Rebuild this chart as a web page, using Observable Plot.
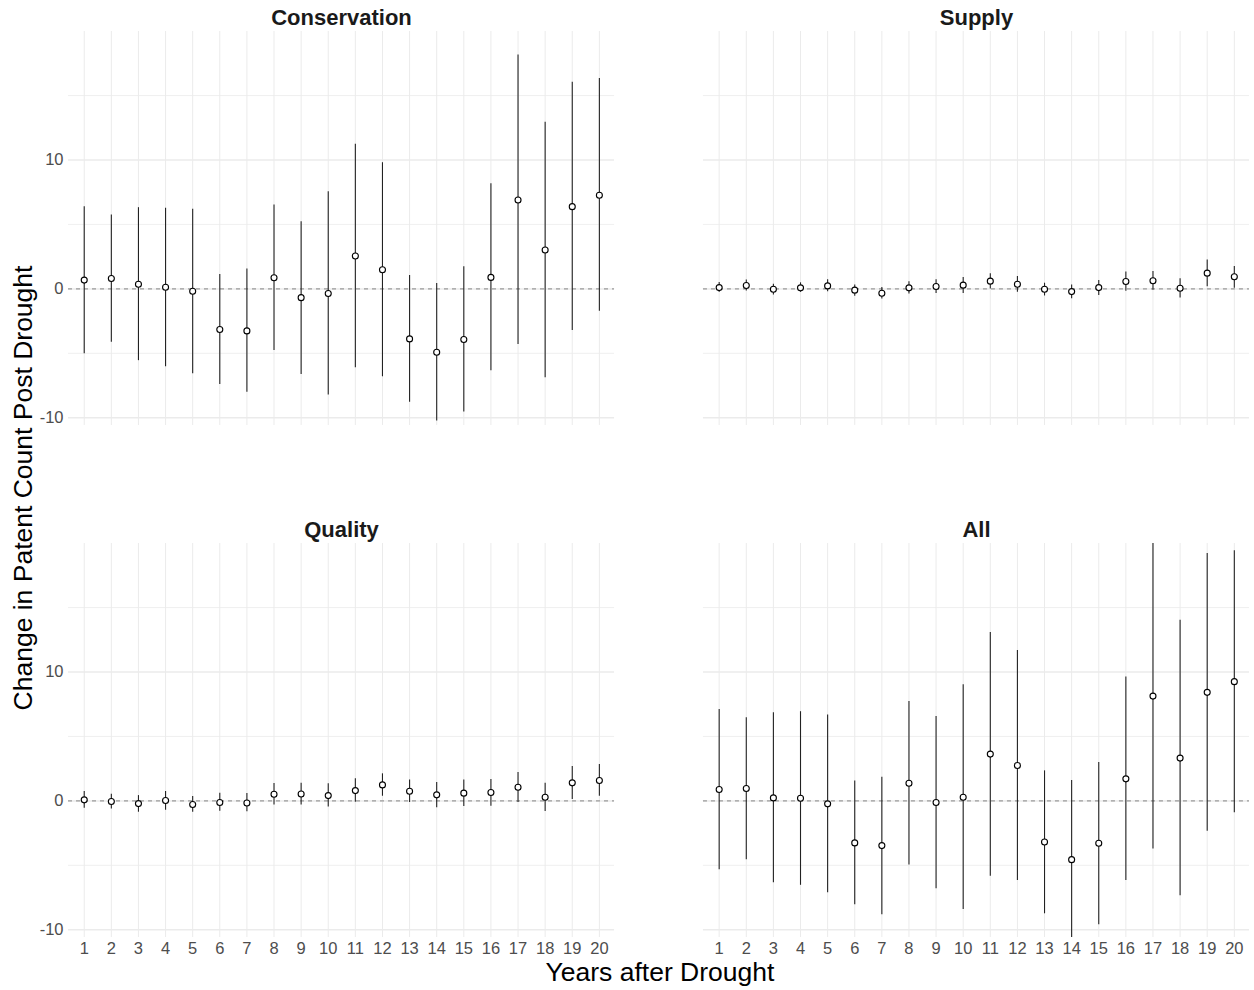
<!DOCTYPE html>
<html>
<head>
<meta charset="utf-8">
<script src="https://cdn.jsdelivr.net/npm/d3@7"></script>
<script src="https://cdn.jsdelivr.net/npm/@observablehq/plot@0.6"></script>
<style>
  html, body { margin: 0; padding: 0; background: #ffffff; }
</style>
</head>
<body>
<div id="chart"></div>
<script>
const years = [1,2,3,4,5,6,7,8,9,10,11,12,13,14,15,16,17,18,19,20];

const panelNames = ["Conservation", "Supply", "Quality", "All"];

const consEst = [0.68,0.81,0.36,0.13,-0.18,-3.15,-3.26,0.86,-0.68,-0.36,2.55,1.48,-3.88,-4.92,-3.93,0.89,6.90,3.02,6.38,7.27];
const consLo  = [-5.03,-4.14,-5.57,-6.04,-6.59,-7.42,-8.02,-4.79,-6.64,-8.23,-6.12,-6.82,-8.80,-10.26,-9.56,-6.35,-4.32,-6.90,-3.23,-1.74];
const consHi  = [6.38,5.73,6.30,6.25,6.17,1.12,1.54,6.51,5.21,7.53,11.22,9.79,1.04,0.42,1.72,8.15,18.15,12.92,16.04,16.33];

const supEst = [0.10,0.26,-0.03,0.08,0.23,-0.10,-0.34,0.08,0.18,0.29,0.60,0.36,-0.03,-0.21,0.10,0.57,0.63,0.05,1.22,0.94];
const supLo  = [-0.26,-0.16,-0.47,-0.26,-0.23,-0.57,-0.78,-0.39,-0.36,-0.36,0.00,-0.26,-0.55,-0.76,-0.52,-0.18,-0.10,-0.70,0.16,0.05];
const supHi  = [0.50,0.68,0.36,0.47,0.70,0.31,0.10,0.55,0.70,0.89,1.17,0.96,0.44,0.31,0.65,1.30,1.35,0.78,2.24,1.74];

const qualEst = [0.08,-0.05,-0.21,0.03,-0.28,-0.13,-0.16,0.52,0.54,0.41,0.80,1.24,0.75,0.47,0.60,0.65,1.06,0.28,1.40,1.58];
const qualLo  = [-0.57,-0.62,-0.88,-0.73,-0.88,-0.80,-0.85,-0.31,-0.31,-0.47,-0.10,0.36,-0.13,-0.54,-0.44,-0.41,-0.13,-0.83,0.10,0.36];
const qualHi  = [0.73,0.52,0.41,0.73,0.34,0.60,0.57,1.35,1.37,1.32,1.71,2.10,1.63,1.42,1.63,1.66,2.20,1.37,2.67,2.82];

const allEst = [0.88,0.96,0.23,0.21,-0.23,-3.26,-3.47,1.37,-0.13,0.28,3.63,2.75,-3.19,-4.56,-3.29,1.71,8.13,3.32,8.42,9.25];
const allLo  = [-5.34,-4.56,-6.35,-6.55,-7.12,-8.06,-8.83,-4.97,-6.81,-8.42,-5.85,-6.17,-8.76,-11.2,-9.61,-6.17,-3.73,-7.36,-2.36,-0.93];
const allHi  = [7.10,6.45,6.84,6.92,6.66,1.55,1.84,7.72,6.55,9.02,13.06,11.66,2.33,1.58,2.98,9.61,20.8,14.02,19.2,19.4];

const yTicks = [-10, 0, 10];
const yMinor = [-5, 5, 15];
const yLabel = "Change in Patent Count Post Drought";
const xLabel = "Years after Drought";

// build table
const series = [
  {name: panelNames[0], est: consEst, lo: consLo, hi: consHi},
  {name: panelNames[1], est: supEst, lo: supLo, hi: supHi},
  {name: panelNames[2], est: qualEst, lo: qualLo, hi: qualHi},
  {name: panelNames[3], est: allEst, lo: allLo, hi: allHi}
];
const rows = [];
const panels = [];
series.forEach((s, i) => {
  const col = i % 2, row = Math.floor(i / 2);
  panels.push({name: s.name, col, row});
  years.forEach((yr, j) => {
    rows.push({panel: s.name, col, row, year: yr, est: s.est[j], lo: s.lo[j], hi: s.hi[j]});
  });
});

const gridColor = "#ebebeb";

const svg = Plot.plot({
  width: 1254,
  height: 990,
  marginLeft: 68,
  marginRight: 5,
  marginTop: 31,
  marginBottom: 53,
  style: {fontFamily: "'Liberation Sans', Arial, sans-serif", fontSize: "16.5px", color: "#4d4d4d", background: "#ffffff"},
  fx: {axis: null, domain: [0, 1], paddingInner: 0.14, paddingOuter: 0, round: false},
  fy: {axis: null, domain: [0, 1], paddingInner: 0.2305, paddingOuter: 0, round: false},
  x: {domain: [0.42, 20.56], ticks: years, tickSize: 0, tickPadding: 5, label: null, tickFormat: d => String(d)},
  y: {domain: [-10.6, 19.97], ticks: yTicks, tickSize: 0, tickPadding: 5, label: null, tickFormat: d => String(d)},
  marks: [
    Plot.ruleY(yMinor, {stroke: gridColor, strokeWidth: 0.8}),
    Plot.ruleY(yTicks, {stroke: gridColor, strokeWidth: 1.5}),
    Plot.ruleX(years, {stroke: gridColor, strokeWidth: 1}),
    Plot.ruleY([0], {stroke: "#9a9a9a", strokeWidth: 1.1, strokeDasharray: "4,4"}),
    Plot.ruleX(rows, {fx: "col", fy: "row", x: "year", y1: "lo", y2: "hi", stroke: "#222222", strokeWidth: 1.1, clip: true}),
    Plot.dot(rows, {fx: "col", fy: "row", x: "year", y: "est", r: 3, fill: "white", stroke: "#000000", strokeWidth: 1.1}),
    Plot.text(panels, {fx: "col", fy: "row", text: "name", frameAnchor: "top", dy: -22, fontWeight: "bold", fontSize: 22, fill: "#1a1a1a"})
  ]
});

const sel = d3.select(svg);
sel.append("text")
  .attr("transform", "translate(32,488) rotate(-90)")
  .attr("text-anchor", "middle")
  .attr("fill", "#000000")
  .attr("font-size", "26.5px")
  .text(yLabel);
sel.append("text")
  .attr("x", 660)
  .attr("y", 981)
  .attr("text-anchor", "middle")
  .attr("fill", "#000000")
  .attr("font-size", "26.5px")
  .text(xLabel);

document.getElementById("chart").appendChild(svg);
</script>
</body>
</html>
